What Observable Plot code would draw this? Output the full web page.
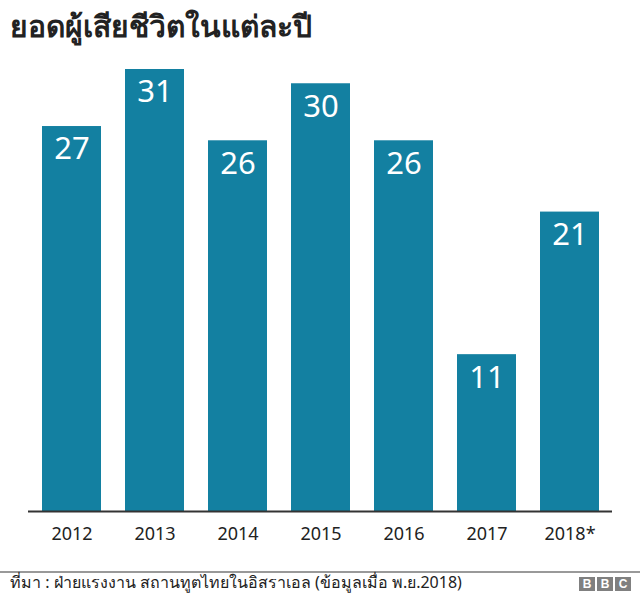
<!DOCTYPE html>
<html>
<head>
<meta charset="utf-8">
<script src="https://cdn.jsdelivr.net/npm/d3@7"></script>
<script src="https://cdn.jsdelivr.net/npm/@observablehq/plot@0.6"></script>
<style>
  html, body { margin: 0; padding: 0; background: #fff; }
  body { width: 640px; height: 595px; position: relative; overflow: hidden; font-family: "Noto Sans", "Open Sans", sans-serif; color: #222; }
  #title { position: absolute; left: 10px; top: 6px; font-size: 30px; font-weight: bold; color: #222; line-height: 40px; }
  #chart { position: absolute; left: 0; top: 55px; }
  #rule { position: absolute; left: 0; top: 571px; width: 640px; height: 2px; background: #999; }
  #source { position: absolute; left: 10px; top: 572px; font-size: 16px; line-height: 21px; color: #222; }
  #logo { position: absolute; left: 579px; top: 577px; display: flex; gap: 2px; }
  #logo span { display: block; width: 16px; height: 14px; background: #808080; color: #fff; font: bold 12px/14px Arial, "Liberation Sans", sans-serif; text-align: center; }
</style>
</head>
<body>
<div id="title">ยอดผู้เสียชีวิตในแต่ละปี</div>
<div id="chart"></div>
<div id="rule"></div>
<div id="source">ที่มา : ฝ่ายแรงงาน สถานทูตไทยในอิสราเอล (ข้อมูลเมื่อ พ.ย.2018)</div>
<div id="logo"><span>B</span><span>B</span><span>C</span></div>
<script>
const years = ["2012", "2013", "2014", "2015", "2016", "2017", "2018*"];
const deaths = [27, 31, 26, 30, 26, 11, 21];

const data = years.map((y, i) => ({year: y, value: deaths[i]}));

const chart = Plot.plot({
  width: 640,
  height: 510,
  marginLeft: 28,
  marginRight: 28,
  marginTop: 14,
  marginBottom: 54,
  style: {fontFamily: "'Noto Sans', 'Open Sans', sans-serif", color: "#222", background: "#fff"},
  x: {domain: years, paddingInner: 0.29, paddingOuter: 0.145, label: null},
  y: {domain: [0, 31], axis: null},
  marks: [
    Plot.barY(data, {x: "year", y: "value", fill: "#1380A1"}),
    Plot.text(data, {x: "year", y: "value", text: d => String(d.value), fill: "#fff", fontSize: 31, dy: 23, lineAnchor: "middle"}),
    Plot.ruleY([0], {stroke: "#333", strokeWidth: 2}),
    Plot.axisX({tickSize: 0, tickPadding: 16, fontSize: 18, label: null, fill: "#222"})
  ]
});
document.getElementById("chart").appendChild(chart);
</script>
</body>
</html>
